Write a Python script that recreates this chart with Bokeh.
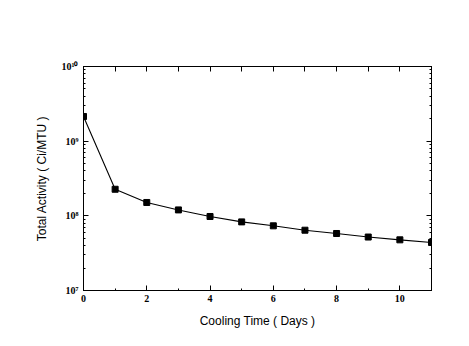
from bokeh.plotting import figure
from bokeh.models import (Range1d, LinearAxis, LogAxis, FixedTicker, LogTicker,
                          CustomJSTickFormatter)
from bokeh.embed import file_html
from bokeh.resources import INLINE

# Data
days = [0, 1, 2, 3, 4, 5, 6, 7, 8, 9, 10, 11]
activity = [2.14e9, 2.27e8, 1.51e8, 1.20e8, 9.8e7, 8.3e7, 7.35e7, 6.42e7,
            5.8e7, 5.2e7, 4.77e7, 4.4e7]
x_major = [0, 2, 4, 6, 8, 10]
x_minor = [1, 3, 5, 7, 9, 11]
y_labels = {10000000: "10⁷", 100000000: "10⁸", 1000000000: "10⁹",
            10000000000: "10¹⁰"}
x_title = "Cooling Time ( Days )"
y_title = "Total Activity ( Ci/MTU )"

p = figure(width=453, height=330, output_backend="svg", toolbar_location=None,
           y_axis_type="log", x_range=Range1d(0, 11), y_range=Range1d(1e7, 1e10),
           min_border_left=83, min_border_right=22, min_border_top=66,
           min_border_bottom=40)
p.xgrid.visible = False
p.ygrid.visible = False
p.outline_line_color = "black"
p.outline_line_width = 1

p.line(days, activity, line_color="black", line_width=1.1)
p.scatter(days, activity, marker="square", size=6, fill_color="black",
          line_color="black")

empty = CustomJSTickFormatter(code="return ''")

# bottom axis
xa = p.xaxis[0]
xa.ticker = FixedTicker(ticks=x_major, minor_ticks=x_minor)
xa.axis_label = x_title

# left axis
ya = p.yaxis[0]
ya.ticker = LogTicker(num_minor_ticks=10)
ya.major_label_overrides = y_labels
ya.axis_label = y_title

# top & right axes
top = LinearAxis(ticker=FixedTicker(ticks=days, minor_ticks=[]), formatter=empty)
right = LogAxis(ticker=LogTicker(num_minor_ticks=10), formatter=empty)
p.add_layout(top, "above")
p.add_layout(right, "right")

for a in [xa, ya, top, right]:
    a.axis_line_color = "black"
    a.major_tick_in = 5
    a.major_tick_out = 0
    a.minor_tick_in = 2
    a.minor_tick_out = 0
    a.major_tick_line_color = "black"
    a.minor_tick_line_color = "black"
    a.major_label_text_font = "Liberation Serif"
    a.major_label_text_font_size = "10px"
    a.major_label_text_font_style = "bold"
    a.major_label_text_color = "black"
    a.axis_label_text_font = "Liberation Sans"
    a.axis_label_text_font_size = "12px"
    a.axis_label_text_font_style = "normal"
    a.axis_label_text_color = "black"
xa.major_label_standoff = 4
xa.axis_label_standoff = 9
ya.major_label_standoff = 5
ya.axis_label_standoff = 10

open("out.html", "w").write(file_html(p, INLINE))
